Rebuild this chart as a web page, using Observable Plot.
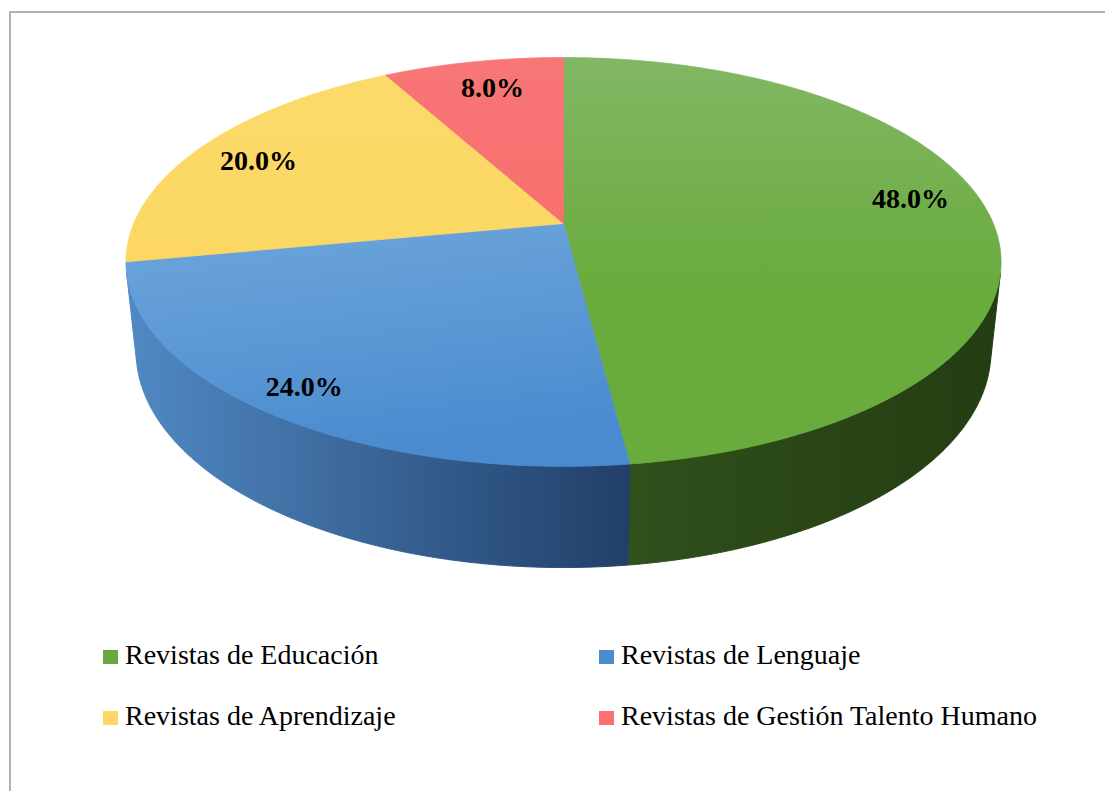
<!DOCTYPE html>
<html><head><meta charset="utf-8">
<script src="https://cdn.jsdelivr.net/npm/d3@7"></script>
<script src="https://cdn.jsdelivr.net/npm/@observablehq/plot@0.6"></script>
<style>
body{margin:0;background:#fff;font-family:"Liberation Serif","Times New Roman",serif;}
#wrap{position:relative;width:1105px;height:791px;overflow:hidden;background:#fff;}
#frame{position:absolute;left:9px;top:11px;width:1300px;height:1000px;border-left:2px solid #b2b2b2;border-top:2px solid #b2b2b2;}
#chart{position:absolute;left:0;top:0;}
.leg{position:absolute;font-size:28px;color:#000;white-space:nowrap;line-height:1;}
.sw{position:absolute;width:15px;height:14px;}
</style></head>
<body><div id="wrap"><div id="frame"></div><div id="chart"></div><div id="legend"></div></div>
<script>
// ---- data ----
const categories = ["Revistas de Educación", "Revistas de Lenguaje", "Revistas de Aprendizaje", "Revistas de Gestión Talento Humano"];
const values = [48, 24, 20, 8];
const valueLabels = ["48.0%", "24.0%", "20.0%", "8.0%"];

// ---- style ----
const topColors = [["#82b765", "#6aab3e"], ["#6ea6dc", "#4a8bcf"], ["#fcda6a", "#fbd762"], ["#f87676", "#f86f6f"]];
const sideColors = [["#30501c", "#243c12"], ["#5089c4", "#213f68"], ["#c9a83e", "#b08f2c"], ["#c45252", "#a84040"]];
const swatchColors = ["#6aa843", "#4b8ccf", "#fdd865", "#fb7070"];

// ---- 3D perspective geometry ----
const W = 1105, H = 600;
const cx = 563, cy = 223, f = 2031, R = 0.2116, sinA = 0.4588, cosA = Math.sqrt(1 - sinA * sinA), depth = 0.0499;
function proj(phi, r, Y) {
  const X = r * R * Math.sin(phi), Z = r * R * Math.cos(phi);
  const w = 1 + Z * cosA - Y * sinA;
  return [cx + f * X / w, cy - f * (Z * sinA + Y * cosA) / w];
}
const arcs = d3.pie().sort(null).value(d => d)(values);
const visMin = Math.acos(-R / cosA), visMax = 2 * Math.PI - visMin;

function arcPts(a0, a1, r, Y) {
  const n = Math.max(2, Math.ceil(Math.abs(a1 - a0) / 0.005));
  return d3.range(n + 1).map(i => proj(a0 + (a1 - a0) * i / n, r, Y));
}

const marks = [];
// sides
arcs.forEach((a, i) => {
  const b0 = Math.max(a.startAngle, visMin), b1 = Math.min(a.endAngle, visMax);
  if (b1 <= b0) return;
  const pts = arcPts(b0, b1, 1, 0).concat(arcPts(b1, b0, 1, -depth));
  pts.push(pts[0]);
  const data = pts.map(([x, y]) => ({x, y}));
  marks.push(Plot.line(data, {x: "x", y: "y", fill: `url(#side${i})`, stroke: `url(#side${i})`, strokeWidth: 1, curve: "linear"}));
});
// tops
arcs.forEach((a, i) => {
  const c = proj(0, 0, 0);
  const pts = [c].concat(arcPts(a.startAngle, a.endAngle, 1, 0));
  pts.push(c);
  const data = pts.map(([x, y]) => ({x, y}));
  marks.push(Plot.line(data, {x: "x", y: "y", fill: `url(#top${i})`, stroke: `url(#top${i})`, strokeWidth: 0.8, curve: "linear"}));
});
// labels
const labelR = [0.836, 0.888, 0.825, 0.812];
const labelShift = [-5, 0, -1.3, 0.9];
const labelData = arcs.map((a, i) => {
  const phi = (a.startAngle + a.endAngle) / 2 + labelShift[i] * Math.PI / 180;
  const [x, y] = proj(phi, labelR[i], 0);
  return {x, y, text: valueLabels[i]};
});
marks.push(Plot.text(labelData, {x: "x", y: "y", text: "text", fontSize: 28, fontWeight: "bold", fontFamily: "Liberation Serif, Times New Roman, serif", fill: "#000", textAnchor: "middle"}));

const svg = Plot.plot({
  width: W, height: H, margin: 0,
  x: {domain: [0, W], range: [0, W], axis: null},
  y: {domain: [0, H], range: [0, H], axis: null},
  style: {background: "transparent", overflow: "visible"},
  marks
});
const defs = d3.select(svg).insert("defs", ":first-child");
topColors.forEach((c, i) => {
  const g = defs.append("linearGradient").attr("id", `top${i}`).attr("x1", 0).attr("y1", 0).attr("x2", i === 1 ? 0.25 : 0).attr("y2", 1);
  g.append("stop").attr("offset", "0%").attr("stop-color", c[0]);
  g.append("stop").attr("offset", i === 0 ? "55%" : "100%").attr("stop-color", c[1]);
  if (i === 0) g.append("stop").attr("offset", "100%").attr("stop-color", c[1]);
});
sideColors.forEach((c, i) => {
  const g = defs.append("linearGradient").attr("id", `side${i}`).attr("x1", 0).attr("y1", 0).attr("x2", 1).attr("y2", 0);
  g.append("stop").attr("offset", "0%").attr("stop-color", c[0]);
  g.append("stop").attr("offset", "100%").attr("stop-color", c[1]);
});
document.getElementById("chart").appendChild(svg);

// legend (order: row-major, 2 columns)
const legend = document.getElementById("legend");
const colX = [103, 599], rowBase = [664, 725];
categories.forEach((cat, i) => {
  const col = i % 2, row = Math.floor(i / 2);
  const sw = document.createElement("div");
  sw.className = "sw";
  sw.style.left = colX[col] + "px";
  sw.style.top = (rowBase[row] - 14) + "px";
  sw.style.background = swatchColors[i];
  legend.appendChild(sw);
  const t = document.createElement("div");
  t.className = "leg";
  t.textContent = cat;
  t.style.left = (colX[col] + 22) + "px";
  t.style.top = (rowBase[row] - 23.5) + "px";
  legend.appendChild(t);
});
</script>
</body></html>
